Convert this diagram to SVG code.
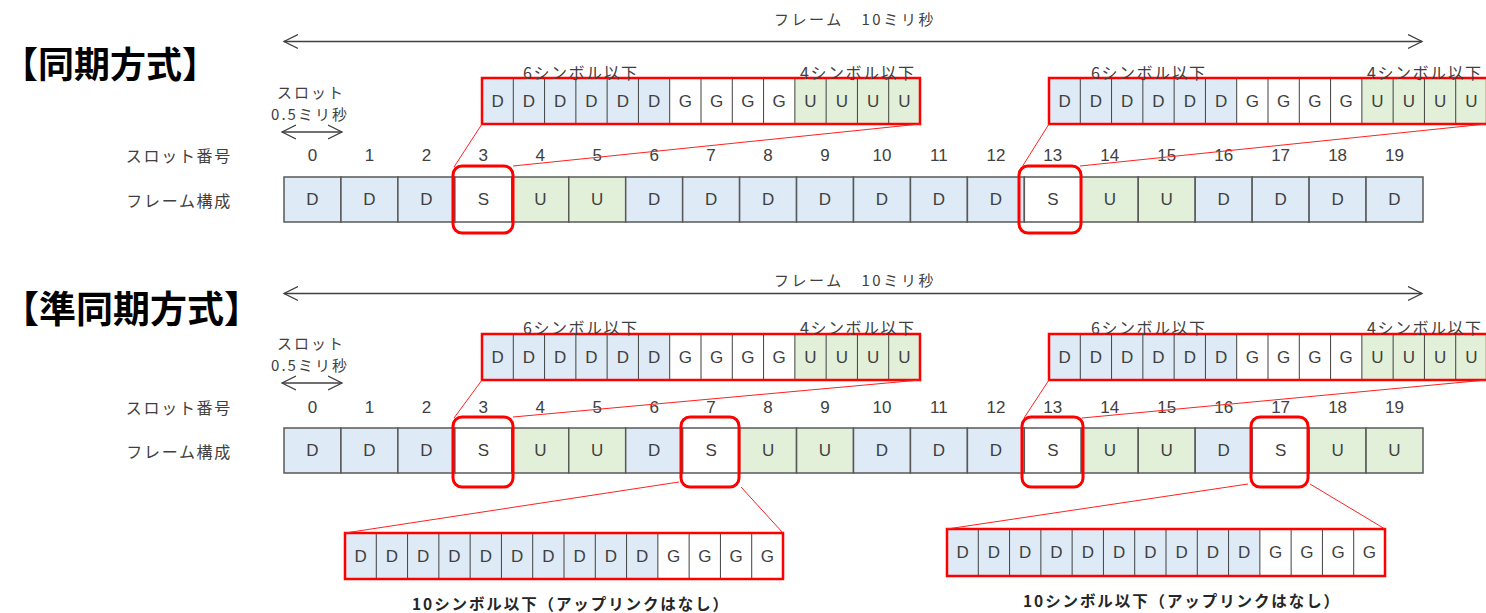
<svg xmlns="http://www.w3.org/2000/svg" width="1486" height="613" viewBox="0 0 1486 613">
<style>
text{font-family:"Noto Sans CJK JP","Liberation Sans",sans-serif;dominant-baseline:central}
.title{font-size:36px;font-weight:700;fill:#000}
.lbl{font-size:16px;fill:#404040;letter-spacing:1.7px;text-anchor:end}
.num{font-family:"Liberation Sans","Noto Sans CJK JP",sans-serif;font-size:17px;fill:#404040;text-anchor:middle}
.c{font-family:"Liberation Sans","Noto Sans CJK JP",sans-serif;font-size:17px;fill:#404040;text-anchor:middle}
.sm{font-size:15px;fill:#404040;letter-spacing:2px;text-anchor:middle}
.fr{font-size:15px;fill:#404040;letter-spacing:2.6px;text-anchor:middle}
.sym{font-size:16px;fill:#404040;letter-spacing:1.5px}
.bold{font-size:15.5px;font-weight:700;fill:#262626;letter-spacing:1.9px;text-anchor:middle}
.D{fill:#DEEBF7}.U{fill:#E2F0D9}.W{fill:#fff}
.slot{stroke:#595959;stroke-width:1.5}
.cl{stroke:#404040;stroke-width:1}
.red{fill:none;stroke:#FF0000;stroke-width:2.5}
.sbox{fill:none;stroke:#FF0000;stroke-width:3}
.conn{stroke:#FF2020;stroke-width:1;fill:none}
.arr{stroke:#404040;stroke-width:1.3;fill:none;marker-start:url(#ah);marker-end:url(#ah)}
</style>
<defs>
<marker id="ah" markerUnits="userSpaceOnUse" markerWidth="16" markerHeight="16" refX="14" refY="7" orient="auto-start-reverse" viewBox="0 0 16 14">
<path d="M0,0 L14,7 L0,14" fill="none" stroke="#404040" stroke-width="1.3"/>
</marker>
</defs>
<rect width="1486" height="613" fill="#fff"/>

<!-- ========== SYNC ========== -->
<g id="title-sync"><text class="title" x="2" y="62">【同期方式】</text></g>
<g id="frame-arrow-sync">
<line class="arr" x1="284" y1="41.5" x2="1422" y2="41.5"/>
<text class="fr" x="855" y="18">フレーム　10ミリ秒</text>
</g>
<g id="slot-arrow-sync">
<text class="sm" x="311" y="91">スロット</text>
<text class="sm" x="310" y="113">0.5ミリ秒</text>
<line class="arr" x1="282" y1="132" x2="342" y2="132"/>
</g>
<g id="labels-sync">
<text class="lbl" x="232" y="155">スロット番号</text>
<text class="lbl" x="232" y="200">フレーム構成</text>
</g>
<g id="numbers-sync">
<text class="num" x="312.5" y="155">0</text><text class="num" x="369.4" y="155">1</text><text class="num" x="426.4" y="155">2</text><text class="num" x="483.3" y="155">3</text><text class="num" x="540.3" y="155">4</text><text class="num" x="597.2" y="155">5</text><text class="num" x="654.2" y="155">6</text><text class="num" x="711.1" y="155">7</text><text class="num" x="768.1" y="155">8</text><text class="num" x="825" y="155">9</text><text class="num" x="882" y="155">10</text><text class="num" x="938.9" y="155">11</text><text class="num" x="995.9" y="155">12</text><text class="num" x="1052.8" y="155">13</text><text class="num" x="1109.8" y="155">14</text><text class="num" x="1166.7" y="155">15</text><text class="num" x="1223.7" y="155">16</text><text class="num" x="1280.6" y="155">17</text><text class="num" x="1337.6" y="155">18</text><text class="num" x="1394.5" y="155">19</text>
</g>
<g id="frame-sync" transform="translate(0,177)">
<rect class="slot D" x="284" y="0" width="56.95" height="45"/>
<rect class="slot D" x="340.95" y="0" width="56.95" height="45"/>
<rect class="slot D" x="397.9" y="0" width="56.95" height="45"/>
<rect class="slot W" x="454.85" y="0" width="56.95" height="45"/>
<rect class="slot U" x="511.8" y="0" width="56.95" height="45"/>
<rect class="slot U" x="568.75" y="0" width="56.95" height="45"/>
<rect class="slot D" x="625.7" y="0" width="56.95" height="45"/>
<rect class="slot D" x="682.65" y="0" width="56.95" height="45"/>
<rect class="slot D" x="739.6" y="0" width="56.95" height="45"/>
<rect class="slot D" x="796.55" y="0" width="56.95" height="45"/>
<rect class="slot D" x="853.5" y="0" width="56.95" height="45"/>
<rect class="slot D" x="910.45" y="0" width="56.95" height="45"/>
<rect class="slot D" x="967.4" y="0" width="56.95" height="45"/>
<rect class="slot W" x="1024.35" y="0" width="56.95" height="45"/>
<rect class="slot U" x="1081.3" y="0" width="56.95" height="45"/>
<rect class="slot U" x="1138.25" y="0" width="56.95" height="45"/>
<rect class="slot D" x="1195.2" y="0" width="56.95" height="45"/>
<rect class="slot D" x="1252.15" y="0" width="56.95" height="45"/>
<rect class="slot D" x="1309.1" y="0" width="56.95" height="45"/>
<rect class="slot D" x="1366.05" y="0" width="56.95" height="45"/>
<text class="c" x="312.5" y="22.5">D</text><text class="c" x="369.4" y="22.5">D</text><text class="c" x="426.4" y="22.5">D</text><text class="c" x="483.3" y="22.5">S</text><text class="c" x="540.3" y="22.5">U</text><text class="c" x="597.2" y="22.5">U</text><text class="c" x="654.2" y="22.5">D</text><text class="c" x="711.1" y="22.5">D</text><text class="c" x="768.1" y="22.5">D</text><text class="c" x="825" y="22.5">D</text><text class="c" x="882" y="22.5">D</text><text class="c" x="938.9" y="22.5">D</text><text class="c" x="995.9" y="22.5">D</text><text class="c" x="1052.8" y="22.5">S</text><text class="c" x="1109.8" y="22.5">U</text><text class="c" x="1166.7" y="22.5">U</text><text class="c" x="1223.7" y="22.5">D</text><text class="c" x="1280.6" y="22.5">D</text><text class="c" x="1337.6" y="22.5">D</text><text class="c" x="1394.5" y="22.5">D</text>
</g>
<g id="sel-sync-3"><rect class="sbox" x="453" y="166" width="60" height="67" rx="9"/></g>
<g id="sel-sync-13"><rect class="sbox" x="1019" y="166" width="62" height="67" rx="9"/></g>

<g id="exp-sync-3" transform="translate(482,78)">
<rect class="D" x="0" y="0" width="187.71" height="46"/><rect class="U" x="312.86" y="0" width="125.14" height="46"/>
<path class="cl" d="M31.29,0V46M62.57,0V46M93.86,0V46M125.14,0V46M156.43,0V46M187.71,0V46M219,0V46M250.29,0V46M281.57,0V46M312.86,0V46M344.14,0V46M375.43,0V46M406.71,0V46"/>
<rect class="red" x="0" y="0" width="438" height="46"/>
<text class="c" x="15.6" y="23">D</text><text class="c" x="46.9" y="23">D</text><text class="c" x="78.2" y="23">D</text><text class="c" x="109.5" y="23">D</text><text class="c" x="140.8" y="23">D</text><text class="c" x="172.1" y="23">D</text><text class="c" x="203.4" y="23">G</text><text class="c" x="234.6" y="23">G</text><text class="c" x="265.9" y="23">G</text><text class="c" x="297.2" y="23">G</text><text class="c" x="328.5" y="23">U</text><text class="c" x="359.8" y="23">U</text><text class="c" x="391.1" y="23">U</text><text class="c" x="422.4" y="23">U</text>
<text class="sym" x="41" y="-6">6シンボル以下</text><text class="sym" x="318" y="-6">4シンボル以下</text>
</g>
<g id="exp-sync-13" transform="translate(1049,78)">
<rect class="D" x="0" y="0" width="187.71" height="46"/><rect class="U" x="312.86" y="0" width="125.14" height="46"/>
<path class="cl" d="M31.29,0V46M62.57,0V46M93.86,0V46M125.14,0V46M156.43,0V46M187.71,0V46M219,0V46M250.29,0V46M281.57,0V46M312.86,0V46M344.14,0V46M375.43,0V46M406.71,0V46"/>
<rect class="red" x="0" y="0" width="438" height="46"/>
<text class="c" x="15.6" y="23">D</text><text class="c" x="46.9" y="23">D</text><text class="c" x="78.2" y="23">D</text><text class="c" x="109.5" y="23">D</text><text class="c" x="140.8" y="23">D</text><text class="c" x="172.1" y="23">D</text><text class="c" x="203.4" y="23">G</text><text class="c" x="234.6" y="23">G</text><text class="c" x="265.9" y="23">G</text><text class="c" x="297.2" y="23">G</text><text class="c" x="328.5" y="23">U</text><text class="c" x="359.8" y="23">U</text><text class="c" x="391.1" y="23">U</text><text class="c" x="422.4" y="23">U</text>
<text class="sym" x="42" y="-6">6シンボル以下</text><text class="sym" x="318" y="-6">4シンボル以下</text>
</g>

<!-- ========== QUASI-SYNC ========== -->
<g id="title-quasi"><text class="title" x="2" y="307" style="font-size:37px">【準同期方式】</text></g>
<g id="frame-arrow-quasi">
<line class="arr" x1="284" y1="293.5" x2="1422" y2="293.5"/>
<text class="fr" x="855" y="279">フレーム　10ミリ秒</text>
</g>
<g id="slot-arrow-quasi">
<text class="sm" x="311" y="342">スロット</text>
<text class="sm" x="310" y="364">0.5ミリ秒</text>
<line class="arr" x1="282" y1="383" x2="342" y2="383"/>
</g>
<g id="labels-quasi">
<text class="lbl" x="232" y="407">スロット番号</text>
<text class="lbl" x="232" y="451">フレーム構成</text>
</g>
<g id="numbers-quasi">
<text class="num" x="312.5" y="407">0</text><text class="num" x="369.4" y="407">1</text><text class="num" x="426.4" y="407">2</text><text class="num" x="483.3" y="407">3</text><text class="num" x="540.3" y="407">4</text><text class="num" x="597.2" y="407">5</text><text class="num" x="654.2" y="407">6</text><text class="num" x="711.1" y="407">7</text><text class="num" x="768.1" y="407">8</text><text class="num" x="825" y="407">9</text><text class="num" x="882" y="407">10</text><text class="num" x="938.9" y="407">11</text><text class="num" x="995.9" y="407">12</text><text class="num" x="1052.8" y="407">13</text><text class="num" x="1109.8" y="407">14</text><text class="num" x="1166.7" y="407">15</text><text class="num" x="1223.7" y="407">16</text><text class="num" x="1280.6" y="407">17</text><text class="num" x="1337.6" y="407">18</text><text class="num" x="1394.5" y="407">19</text>
</g>
<g id="frame-quasi" transform="translate(0,428)">
<rect class="slot D" x="284" y="0" width="56.95" height="45"/>
<rect class="slot D" x="340.95" y="0" width="56.95" height="45"/>
<rect class="slot D" x="397.9" y="0" width="56.95" height="45"/>
<rect class="slot W" x="454.85" y="0" width="56.95" height="45"/>
<rect class="slot U" x="511.8" y="0" width="56.95" height="45"/>
<rect class="slot U" x="568.75" y="0" width="56.95" height="45"/>
<rect class="slot D" x="625.7" y="0" width="56.95" height="45"/>
<rect class="slot W" x="682.65" y="0" width="56.95" height="45"/>
<rect class="slot U" x="739.6" y="0" width="56.95" height="45"/>
<rect class="slot U" x="796.55" y="0" width="56.95" height="45"/>
<rect class="slot D" x="853.5" y="0" width="56.95" height="45"/>
<rect class="slot D" x="910.45" y="0" width="56.95" height="45"/>
<rect class="slot D" x="967.4" y="0" width="56.95" height="45"/>
<rect class="slot W" x="1024.35" y="0" width="56.95" height="45"/>
<rect class="slot U" x="1081.3" y="0" width="56.95" height="45"/>
<rect class="slot U" x="1138.25" y="0" width="56.95" height="45"/>
<rect class="slot D" x="1195.2" y="0" width="56.95" height="45"/>
<rect class="slot W" x="1252.15" y="0" width="56.95" height="45"/>
<rect class="slot U" x="1309.1" y="0" width="56.95" height="45"/>
<rect class="slot U" x="1366.05" y="0" width="56.95" height="45"/>
<text class="c" x="312.5" y="22.5">D</text><text class="c" x="369.4" y="22.5">D</text><text class="c" x="426.4" y="22.5">D</text><text class="c" x="483.3" y="22.5">S</text><text class="c" x="540.3" y="22.5">U</text><text class="c" x="597.2" y="22.5">U</text><text class="c" x="654.2" y="22.5">D</text><text class="c" x="711.1" y="22.5">S</text><text class="c" x="768.1" y="22.5">U</text><text class="c" x="825" y="22.5">U</text><text class="c" x="882" y="22.5">D</text><text class="c" x="938.9" y="22.5">D</text><text class="c" x="995.9" y="22.5">D</text><text class="c" x="1052.8" y="22.5">S</text><text class="c" x="1109.8" y="22.5">U</text><text class="c" x="1166.7" y="22.5">U</text><text class="c" x="1223.7" y="22.5">D</text><text class="c" x="1280.6" y="22.5">S</text><text class="c" x="1337.6" y="22.5">U</text><text class="c" x="1394.5" y="22.5">U</text>
</g>
<g id="sel-quasi-3"><rect class="sbox" x="453" y="417" width="60" height="70" rx="9"/></g>
<g id="sel-quasi-7"><rect class="sbox" x="681" y="417" width="58" height="70" rx="9"/></g>
<g id="sel-quasi-13"><rect class="sbox" x="1022" y="417" width="61" height="70" rx="9"/></g>
<g id="sel-quasi-17"><rect class="sbox" x="1251" y="417" width="57" height="70" rx="9"/></g>

<g id="exp-quasi-3" transform="translate(482,334)">
<rect class="D" x="0" y="0" width="187.71" height="46"/><rect class="U" x="312.86" y="0" width="125.14" height="46"/>
<path class="cl" d="M31.29,0V46M62.57,0V46M93.86,0V46M125.14,0V46M156.43,0V46M187.71,0V46M219,0V46M250.29,0V46M281.57,0V46M312.86,0V46M344.14,0V46M375.43,0V46M406.71,0V46"/>
<rect class="red" x="0" y="0" width="438" height="46"/>
<text class="c" x="15.6" y="23">D</text><text class="c" x="46.9" y="23">D</text><text class="c" x="78.2" y="23">D</text><text class="c" x="109.5" y="23">D</text><text class="c" x="140.8" y="23">D</text><text class="c" x="172.1" y="23">D</text><text class="c" x="203.4" y="23">G</text><text class="c" x="234.6" y="23">G</text><text class="c" x="265.9" y="23">G</text><text class="c" x="297.2" y="23">G</text><text class="c" x="328.5" y="23">U</text><text class="c" x="359.8" y="23">U</text><text class="c" x="391.1" y="23">U</text><text class="c" x="422.4" y="23">U</text>
<text class="sym" x="41" y="-7">6シンボル以下</text><text class="sym" x="318" y="-7">4シンボル以下</text>
</g>
<g id="exp-quasi-13" transform="translate(1049,334)">
<rect class="D" x="0" y="0" width="187.71" height="46"/><rect class="U" x="312.86" y="0" width="125.14" height="46"/>
<path class="cl" d="M31.29,0V46M62.57,0V46M93.86,0V46M125.14,0V46M156.43,0V46M187.71,0V46M219,0V46M250.29,0V46M281.57,0V46M312.86,0V46M344.14,0V46M375.43,0V46M406.71,0V46"/>
<rect class="red" x="0" y="0" width="438" height="46"/>
<text class="c" x="15.6" y="23">D</text><text class="c" x="46.9" y="23">D</text><text class="c" x="78.2" y="23">D</text><text class="c" x="109.5" y="23">D</text><text class="c" x="140.8" y="23">D</text><text class="c" x="172.1" y="23">D</text><text class="c" x="203.4" y="23">G</text><text class="c" x="234.6" y="23">G</text><text class="c" x="265.9" y="23">G</text><text class="c" x="297.2" y="23">G</text><text class="c" x="328.5" y="23">U</text><text class="c" x="359.8" y="23">U</text><text class="c" x="391.1" y="23">U</text><text class="c" x="422.4" y="23">U</text>
<text class="sym" x="42" y="-7">6シンボル以下</text><text class="sym" x="318" y="-7">4シンボル以下</text>
</g>
<g id="exp-quasi-7" transform="translate(345,533)">
<rect class="D" x="0" y="0" width="312.86" height="46"/>
<path class="cl" d="M31.29,0V46M62.57,0V46M93.86,0V46M125.14,0V46M156.43,0V46M187.71,0V46M219,0V46M250.29,0V46M281.57,0V46M312.86,0V46M344.14,0V46M375.43,0V46M406.71,0V46"/>
<rect class="red" x="0" y="0" width="438" height="46"/>
<text class="c" x="15.6" y="23">D</text><text class="c" x="46.9" y="23">D</text><text class="c" x="78.2" y="23">D</text><text class="c" x="109.5" y="23">D</text><text class="c" x="140.8" y="23">D</text><text class="c" x="172.1" y="23">D</text><text class="c" x="203.4" y="23">D</text><text class="c" x="234.6" y="23">D</text><text class="c" x="265.9" y="23">D</text><text class="c" x="297.2" y="23">D</text><text class="c" x="328.5" y="23">G</text><text class="c" x="359.8" y="23">G</text><text class="c" x="391.1" y="23">G</text><text class="c" x="422.4" y="23">G</text>
<text class="bold" x="226" y="70">10シンボル以下（アップリンクはなし）</text>
</g>
<g id="exp-quasi-17" transform="translate(947,529)">
<rect class="D" x="0" y="0" width="312.86" height="47"/>
<path class="cl" d="M31.29,0V47M62.57,0V47M93.86,0V47M125.14,0V47M156.43,0V47M187.71,0V47M219,0V47M250.29,0V47M281.57,0V47M312.86,0V47M344.14,0V47M375.43,0V47M406.71,0V47"/>
<rect class="red" x="0" y="0" width="438" height="47"/>
<text class="c" x="15.6" y="23.5">D</text><text class="c" x="46.9" y="23.5">D</text><text class="c" x="78.2" y="23.5">D</text><text class="c" x="109.5" y="23.5">D</text><text class="c" x="140.8" y="23.5">D</text><text class="c" x="172.1" y="23.5">D</text><text class="c" x="203.4" y="23.5">D</text><text class="c" x="234.6" y="23.5">D</text><text class="c" x="265.9" y="23.5">D</text><text class="c" x="297.2" y="23.5">D</text><text class="c" x="328.5" y="23.5">G</text><text class="c" x="359.8" y="23.5">G</text><text class="c" x="391.1" y="23.5">G</text><text class="c" x="422.4" y="23.5">G</text>
<text class="bold" x="235" y="71">10シンボル以下（アップリンクはなし）</text>
</g>

<g id="connectors">
<line class="conn" x1="454" y1="167" x2="482" y2="124"/>
<line class="conn" x1="513" y1="166" x2="920" y2="124"/>
<line class="conn" x1="1022" y1="167" x2="1049" y2="124"/>
<line class="conn" x1="1080" y1="166" x2="1486" y2="124"/>
<line class="conn" x1="454" y1="418" x2="482" y2="380"/>
<line class="conn" x1="513" y1="417" x2="920" y2="380"/>
<line class="conn" x1="1024" y1="418" x2="1049" y2="380"/>
<line class="conn" x1="1082" y1="418" x2="1486" y2="380"/>
<line class="conn" x1="679" y1="482" x2="345" y2="533"/>
<line class="conn" x1="741" y1="487" x2="783" y2="533"/>
<line class="conn" x1="1248" y1="484" x2="947" y2="529"/>
<line class="conn" x1="1310" y1="484" x2="1385" y2="529"/>
</g>
</svg>
